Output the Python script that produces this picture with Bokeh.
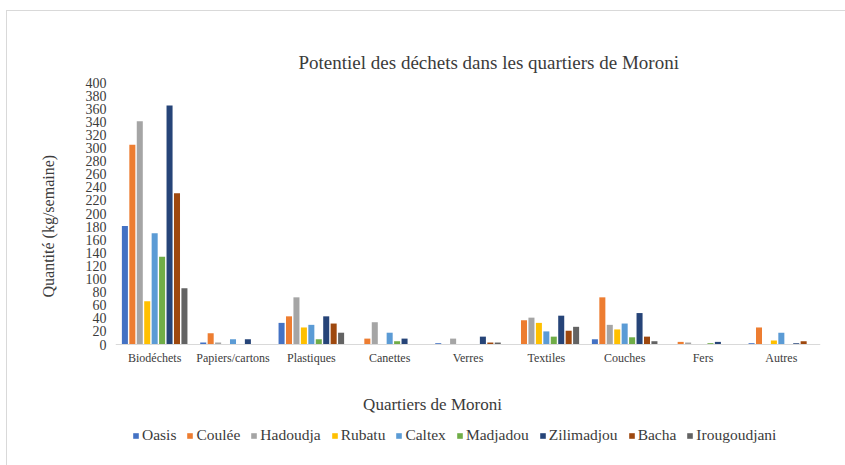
from bokeh.plotting import figure
from bokeh.models import (FactorRange, Range1d, Legend, LegendItem, FixedTicker,
                          ColumnDataSource, Span, Label, Title)
from bokeh.core.properties import value
from bokeh.transform import dodge
from bokeh.embed import file_html
from bokeh.resources import INLINE

categories = ["Biodéchets", "Papiers/cartons", "Plastiques", "Canettes", "Verres",
              "Textiles", "Couches", "Fers", "Autres"]
series_names = ["Oasis", "Coulée", "Hadoudja", "Rubatu", "Caltex", "Madjadou",
                "Zilimadjou", "Bacha", "Irougoudjani"]
oasis        = [181, 3, 33, 0, 2, 0, 8, 0, 2]
coulee       = [305, 17, 43, 9, 0, 37, 72, 4, 26]
hadoudja     = [341, 3, 72, 34, 9, 41, 30, 3, 0]
rubatu       = [66, 0, 26, 0, 0, 33, 23, 0, 6]
caltex       = [170, 8, 30, 18, 0, 20, 32, 0, 18]
madjadou     = [134, 0, 8, 5, 0, 12, 11, 2, 0]
zilimadjou   = [365, 8, 43, 9, 12, 44, 48, 4, 2]
bacha        = [231, 0, 32, 0, 3, 21, 12, 0, 5]
irougoudjani = [86, 0, 18, 0, 3, 27, 5, 0, 0]
y_ticks = list(range(0, 401, 20))

colors = ["#4472C4", "#ED7D31", "#A5A5A5", "#FFC000", "#5B9BD5", "#70AD47",
          "#264478", "#9E480E", "#636363"]
series_values = [oasis, coulee, hadoudja, rubatu, caltex, madjadou, zilimadjou, bacha, irougoudjani]

FONT = "Liberation Serif"
TXT = "#3b3b3b"

data = {"cat": categories}
for i, vals in enumerate(series_values):
    data["s%d" % i] = vals
source = ColumnDataSource(data)

# frame: x 115..820, y 82 (400) .. 344 (0); frame extended down to the window bottom
Y_MAX = 400
Y_MIN = -(465 - 344) * Y_MAX / (344 - 82)

p = figure(x_range=FactorRange(*categories), y_range=Range1d(Y_MIN, Y_MAX),
           width=838, height=454, output_backend="svg", toolbar_location=None,
           min_border_left=108, min_border_right=25, min_border_top=71, min_border_bottom=0)
p.styles = {"margin-left": "7px", "margin-top": "11px", "outline": "1px solid #d9d9d9"}

step = 0.095
items = []
for i, (name, c) in enumerate(zip(series_names, colors)):
    r = p.vbar(x=dodge("cat", (i - 4) * step, range=p.x_range), top="s%d" % i,
               width=0.077, source=source, fill_color=c, line_color=None)
    items.append(LegendItem(label=name, renderers=[r]))

p.title.text = "Potentiel des déchets dans les quartiers de Moroni"
p.title.align = "left"
p.title.offset = 183
p.title.standoff = 20
p.title.text_font = FONT
p.title.text_font_size = "19px"
p.title.text_font_style = "normal"
p.title.text_color = TXT

ytitle = Title(text="Quantité (kg/semaine)", align="left", offset=168, standoff=52,
               text_font=FONT, text_font_size="16px", text_font_style="normal",
               text_color=TXT)
p.add_layout(ytitle, "left")

p.xgrid.grid_line_color = None
p.ygrid.grid_line_color = None
p.outline_line_color = None
p.background_fill_color = None
p.border_fill_color = None

p.yaxis.ticker = FixedTicker(ticks=y_ticks)
p.yaxis.axis_line_color = None
p.yaxis.major_tick_line_color = None
p.yaxis.minor_tick_line_color = None
p.yaxis.major_label_standoff = 3
p.yaxis.major_label_text_font = FONT
p.yaxis.major_label_text_font_size = "14px"
p.yaxis.major_label_text_color = TXT

p.xaxis.visible = False

p.add_layout(Span(location=0, dimension="width", line_color="#d9d9d9", line_width=1))

p.text(x="cat", y=0, text="cat", source=source, y_offset=6,
       text_baseline="top", text_align="center",
       text_font=value(FONT), text_font_size="12px", text_color=TXT)

p.add_layout(Label(x=317, y=61, x_units="screen", y_units="screen",
                   text="Quartiers de Moroni", text_align="center", text_baseline="middle",
                   text_font=FONT, text_font_size="17px", text_color=TXT))

legend = Legend(items=items, orientation="horizontal", location=(17, 21),
                glyph_width=7, glyph_height=7, label_standoff=3, spacing=10,
                padding=4, margin=0, border_line_color=None, background_fill_alpha=0,
                label_text_font=FONT, label_text_font_size="15.5px", label_text_color=TXT)
p.add_layout(legend, "center")

open("out.html", "w").write(file_html(p, INLINE))
